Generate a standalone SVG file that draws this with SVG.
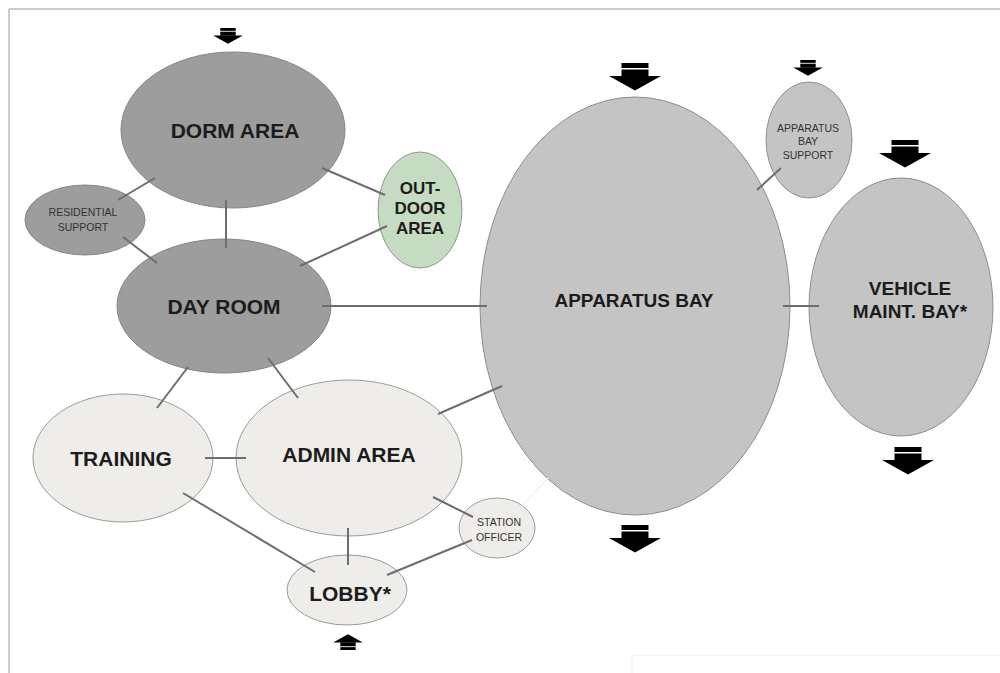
<svg xmlns="http://www.w3.org/2000/svg" xmlns:xlink="http://www.w3.org/1999/xlink" width="1000" height="673" viewBox="0 0 1000 673">
<style>
.dark{fill:#9d9d9d;stroke:#858585;stroke-width:1}
.mid{fill:#c4c4c4;stroke:#8e8e8e;stroke-width:1}
.light{fill:#eeede9;stroke:#9a9a9a;stroke-width:1}
.green{fill:#c6dcc2;stroke:#8f9a8c;stroke-width:1}
.big{font-family:"Liberation Sans",Arial,sans-serif;font-weight:bold;fill:#1c1c1c;text-anchor:middle}
.small{font-family:"Liberation Sans",Arial,sans-serif;fill:#333;text-anchor:middle;font-size:10.5px}
.conn line{stroke:#6e6e6e;stroke-width:2}
</style>
<defs>
<symbol id="arr" overflow="visible">
<rect x="-13.5" y="0" width="27" height="5" fill="#000"/>
<rect x="-13.5" y="6.5" width="27" height="7" fill="#000"/>
<polygon points="-26,13 26,13 0,27.5" fill="#000"/>
</symbol>
</defs>
<rect width="1000" height="673" fill="#fff"/>
<g id="frame" fill="none">
<line x1="9" y1="9" x2="1000" y2="9" stroke="#c9ced4" stroke-width="2"/>
<line x1="9" y1="9" x2="9" y2="673" stroke="#c9ced4" stroke-width="2"/>
<polyline points="632,673 632,655 1000,655" stroke="#f3f3f3" stroke-width="1.5"/>
</g>
<g id="nodes-shapes">
<g id="dorm"><ellipse class="dark" cx="233" cy="130" rx="112" ry="78"/></g>
<g id="residential"><ellipse class="dark" cx="85" cy="220" rx="60" ry="35"/></g>
<g id="dayroom"><ellipse class="dark" cx="224" cy="306" rx="107" ry="67"/></g>
<g id="outdoor"><ellipse class="green" cx="420" cy="210" rx="42" ry="58"/></g>
<g id="apparatus"><ellipse class="mid" cx="635" cy="306" rx="155" ry="209"/></g>
<g id="support"><ellipse class="mid" cx="809" cy="140" rx="43" ry="58"/></g>
<g id="vehicle"><ellipse class="mid" cx="901" cy="307" rx="92" ry="129"/></g>
<g id="training"><ellipse class="light" cx="123" cy="458" rx="90" ry="64"/></g>
<g id="admin"><ellipse class="light" cx="349" cy="458" rx="113" ry="78"/></g>
<g id="station"><ellipse class="light" cx="497" cy="528" rx="38" ry="30"/></g>
<g id="lobby"><ellipse class="light" cx="347" cy="590" rx="60" ry="35"/></g>
</g>
<g id="connectors" class="conn">
<line x1="155" y1="178" x2="118" y2="200"/>
<line x1="226" y1="200" x2="226" y2="248"/>
<line x1="322" y1="168" x2="385" y2="195"/>
<line x1="123" y1="237" x2="157" y2="263"/>
<line x1="300" y1="266" x2="387" y2="226"/>
<line x1="322" y1="306" x2="487" y2="306"/>
<line x1="188" y1="367" x2="157" y2="408"/>
<line x1="268" y1="358" x2="298" y2="398"/>
<line x1="205" y1="458" x2="246" y2="458"/>
<line x1="183" y1="493" x2="315" y2="572"/>
<line x1="348" y1="528" x2="348" y2="565"/>
<line x1="433" y1="497" x2="473" y2="517"/>
<line x1="387" y1="575" x2="472" y2="540"/>
<line x1="438" y1="414" x2="502" y2="386"/>
<line x1="757" y1="190" x2="781" y2="168"/>
<line x1="783" y1="306" x2="819" y2="306"/>
<line x1="548" y1="478" x2="522" y2="506" style="stroke:#f1f1f1;stroke-width:1.5"/>
</g>
<g id="arrows">
<use xlink:href="#arr" href="#arr" transform="translate(228,28) scale(0.57)"/>
<use xlink:href="#arr" href="#arr" transform="translate(635,63)"/>
<use xlink:href="#arr" href="#arr" transform="translate(808,60) scale(0.57)"/>
<use xlink:href="#arr" href="#arr" transform="translate(905,140)"/>
<use xlink:href="#arr" href="#arr" transform="translate(908,447)"/>
<use xlink:href="#arr" href="#arr" transform="translate(635,525)"/>
<use xlink:href="#arr" href="#arr" transform="translate(348,650) scale(0.57,-0.57)"/>
</g>
<g id="labels">
<text class="big" x="235" y="138" font-size="21">DORM AREA</text>
<text class="small" x="83" y="216">RESIDENTIAL</text>
<text class="small" x="83" y="231">SUPPORT</text>
<text class="big" x="224" y="314" font-size="21">DAY ROOM</text>
<text class="big" x="420" y="194" font-size="17">OUT-</text>
<text class="big" x="420" y="214" font-size="17">DOOR</text>
<text class="big" x="420" y="234" font-size="17">AREA</text>
<text class="big" x="634" y="307" font-size="19">APPARATUS BAY</text>
<text class="small" x="808" y="132">APPARATUS</text>
<text class="small" x="808" y="145">BAY</text>
<text class="small" x="808" y="159">SUPPORT</text>
<text class="big" x="910" y="295" font-size="19">VEHICLE</text>
<text class="big" x="910" y="318" font-size="19">MAINT. BAY*</text>
<text class="big" x="121" y="466" font-size="21">TRAINING</text>
<text class="big" x="349" y="462" font-size="21">ADMIN AREA</text>
<text class="small" x="499" y="526">STATION</text>
<text class="small" x="499" y="541">OFFICER</text>
<text class="big" x="350" y="601" font-size="21">LOBBY*</text>
</g>
</svg>
